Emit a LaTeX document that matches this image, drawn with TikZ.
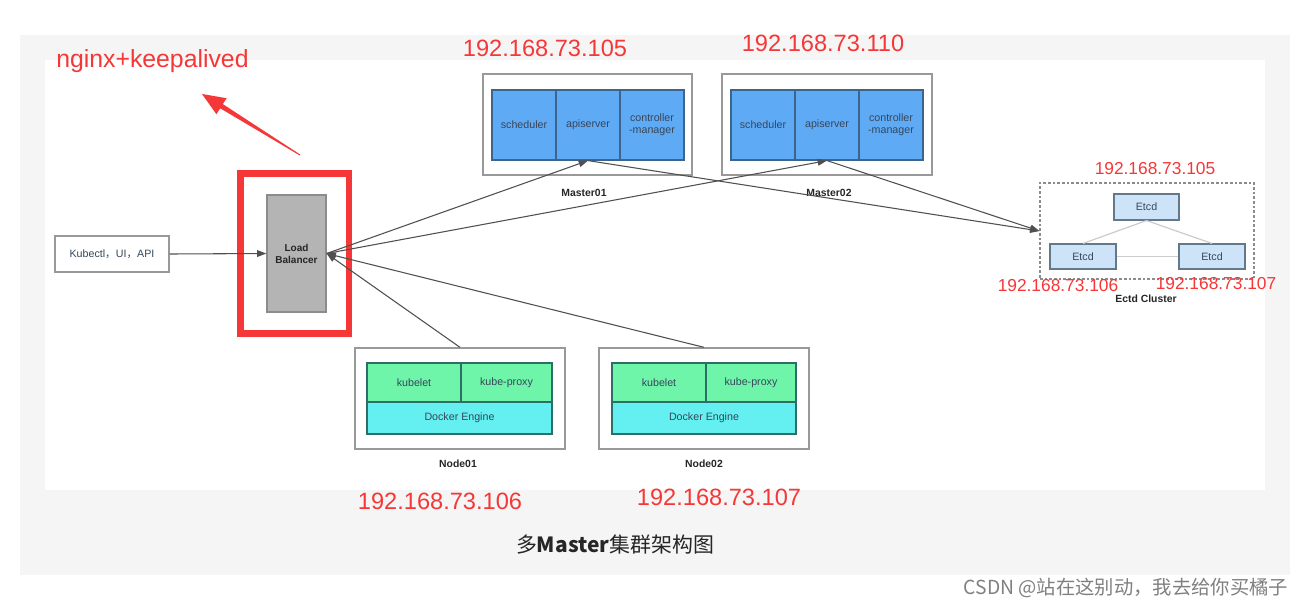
\documentclass[tikz,border=0pt]{standalone}
\usepackage{fontspec}
\setmainfont{Liberation Sans}
\newfontfamily\cjk{Noto Sans CJK SC}
\usetikzlibrary{arrows.meta,fit}
\definecolor{ipred}{RGB}{245,55,55}
\definecolor{bggray}{RGB}{245,245,245}
\definecolor{mblue}{RGB}{95,170,245}
\definecolor{mblueb}{RGB}{60,100,140}
\definecolor{ngreen}{RGB}{110,245,170}
\definecolor{ncyan}{RGB}{100,240,240}
\definecolor{nborder}{RGB}{45,110,105}
\definecolor{etcdfill}{RGB}{205,228,248}
\definecolor{etcdb}{RGB}{100,120,140}
\definecolor{txt}{RGB}{55,70,90}
\definecolor{lbfill}{RGB}{180,180,180}
\definecolor{arrcol}{RGB}{80,80,80}
\begin{document}
\begin{tikzpicture}[x=0.75pt,y=-0.75pt,
  outerbox/.style={draw=black!40, line width=1pt, fill=white, inner sep=0pt},
  celltext/.style={text=txt, font=\fontsize{8}{8.8}\selectfont, align=center, inner sep=0pt},
  mcell/.style={draw=mblueb, line width=0.9pt, fill=mblue, inner sep=0pt},
  gcell/.style={draw=nborder, line width=0.9pt, fill=ngreen, inner sep=0pt},
  ccell/.style={draw=nborder, line width=0.9pt, fill=ncyan, inner sep=0pt},
  ecell/.style={draw=etcdb, line width=0.8pt, fill=etcdfill, inner sep=0pt},
  caption/.style={font=\bfseries\fontsize{7.8}{9}\selectfont, text=black!85},
  ip/.style={text=ipred, font=\fontsize{17.7}{20}\selectfont, inner sep=0pt},
  ipsmall/.style={text=ipred, font=\fontsize{13}{15}\selectfont, inner sep=0pt},
  arr/.style={draw=arrcol, line width=0.8pt, -{Triangle[length=7pt,width=5pt]}}]
\useasboundingbox (0,0) rectangle (1307,608);
% background
\fill[white] (0,0) rectangle (1307,608);
\fill[bggray] (20,35) rectangle (1290,575);
\fill[white] (45,60) rectangle (1265,490);

% client
\node[draw=black!40, line width=1pt, fill=white, inner sep=0pt, fit={(55,236)(169,272)},
  label={[celltext]center:Kubectl{\cjk ，}UI{\cjk ，}API}] (kub) {};

% load balancer
\node[draw=black!45, line width=0.9pt, fill=lbfill, inner sep=0pt, fit={(267,195)(326,312)},
  label={[font=\bfseries\fontsize{7.5}{9}\selectfont, align=center, text=black!85]center:Load\\Balancer}] (lb) {};
\node[draw=ipred, line width=5.2pt, inner sep=0pt, fit={(240.5,173.5)(349,333.5)}] (redbox) {};

% annotation arrow
\fill[ipred] (202,94) -- (226.6,98.2) -- (222.8,104.1) -- (300.3,154.6) -- (299.7,155.4)
  -- (220.2,108.3) -- (216.4,114.2) -- cycle;
\node[text=ipred, font=\fontsize{18.6}{21}\selectfont, inner sep=0pt, anchor=west] (nk) at (56,61) {nginx+keepalived};

% Master01
\node[outerbox, fit={(483,74)(692,175)}] (m1) {};
\node[mcell, fit={(492,90)(556,160)}, label={[celltext]center:scheduler}] (m1s) {};
\node[mcell, fit={(556,90)(620,160)}, label={[celltext]center:apiserver}] (m1a) {};
\node[mcell, fit={(620,90)(684,160)}, label={[celltext]center:controller\\-manager}] (m1c) {};
\node[caption] (m1l) at (584,193) {Master01};
\node[ip] (ip1) at (545,48) {192.168.73.105};

% Master02
\node[outerbox, fit={(722,74)(932,175)}] (m2) {};
\node[mcell, fit={(731,90)(795,160)}, label={[celltext]center:scheduler}] (m2s) {};
\node[mcell, fit={(795,90)(859,160)}, label={[celltext]center:apiserver}] (m2a) {};
\node[mcell, fit={(859,90)(923,160)}, label={[celltext]center:controller\\-manager}] (m2c) {};
\node[caption] (m2l) at (829,193) {Master02};
\node[ip] (ip2) at (823,43) {192.168.73.110};

% Node01
\node[outerbox, fit={(355,348)(565,449)}] (n1) {};
\node[gcell, fit={(367,363)(461,402)}, label={[celltext]center:kubelet}] (n1k) {};
\node[gcell, fit={(461,363)(552,402)}, label={[celltext]center:kube-proxy}] (n1p) {};
\node[ccell, fit={(367,402)(552,434)}, label={[celltext]center:Docker Engine}] (n1d) {};
\node[caption] (n1l) at (458,464) {Node01};
\node[ip] (ip3) at (440,501) {192.168.73.106};

% Node02
\node[outerbox, fit={(599,348)(809,449)}] (n2) {};
\node[gcell, fit={(612,363)(706,402)}, label={[celltext]center:kubelet}] (n2k) {};
\node[gcell, fit={(706,363)(796,402)}, label={[celltext]center:kube-proxy}] (n2p) {};
\node[ccell, fit={(612,402)(796,434)}, label={[celltext]center:Docker Engine}] (n2d) {};
\node[caption] (n2l) at (704,464) {Node02};
\node[ip] (ip4) at (719,497) {192.168.73.107};

% Etcd cluster
\node[draw=black!45, line width=0.9pt, dash pattern=on 2pt off 1.5pt, inner sep=0pt, fit={(1040,183)(1254,279)}] (etcd) {};
\node[ecell, fit={(1114,194)(1179,220)}, label={[celltext]center:Etcd}] (e1) {};
\node[ecell, fit={(1050,244)(1116,269)}, label={[celltext]center:Etcd}] (e2) {};
\node[ecell, fit={(1179,244)(1245,269)}, label={[celltext]center:Etcd}] (e3) {};
\draw[black!20, line width=0.9pt] (e1.south) -- (e2.north);
\draw[black!20, line width=0.9pt] (e1.south) -- (e3.north);
\draw[black!20, line width=0.9pt] (e2.east) -- (e3.west);
\node[caption] (el) at (1146,299) {Ectd Cluster};
\node[ipsmall] (ip5) at (1155,169) {192.168.73.105};
\node[ipsmall] (ip6) at (1058,286) {192.168.73.106};
\node[ipsmall] (ip7) at (1216,284) {192.168.73.107};

% connectors
\draw[arr] (kub.east) -- (lb.west);
\draw[arr] (lb.east) -- (m1a.south);
\draw[arr] (lb.east) -- (m2a.south);
\draw[arr] (m1a.south) -- (etcd.west);
\draw[arr] (m2a.south) -- (etcd.west);
\draw[arr] (n1.north) -- (lb.east);
\draw[arr] (n2.north) -- (lb.east);

% title and watermark
\node[font=\cjk\fontsize{15.7}{18}\selectfont, text=black!85, inner sep=0pt] (title) at (615,545) {多\textbf{Master}集群架构图};
\node[font=\cjk\fontsize{14.5}{17}\selectfont, text=black!50, inner sep=0pt] (wm) at (1126,588) {CSDN @站在这别动，我去给你买橘子};
\end{tikzpicture}
\end{document}
